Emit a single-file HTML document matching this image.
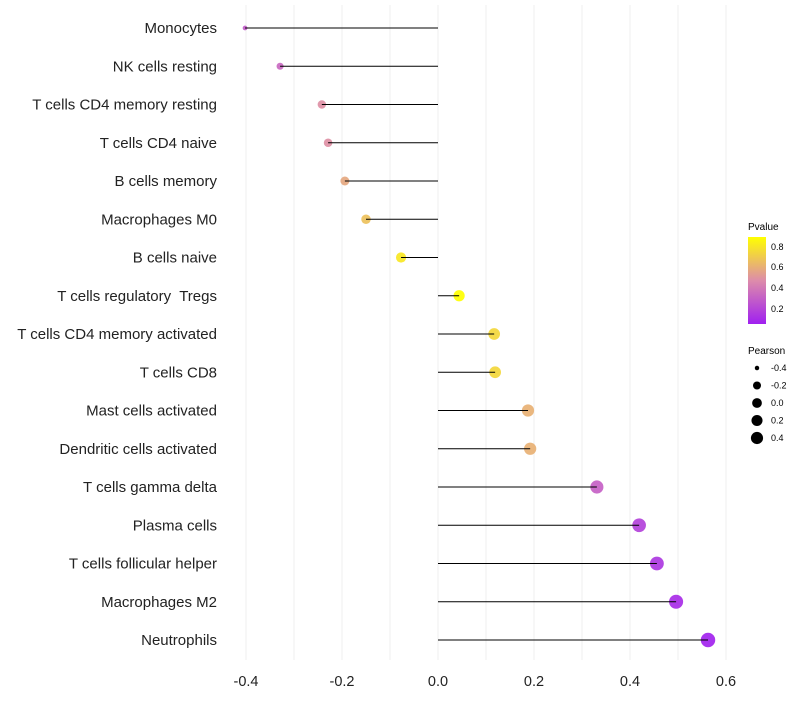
<!DOCTYPE html>
<html><head><meta charset="utf-8"><style>
body{margin:0;background:#fff;}
text{font-family:"Liberation Sans",sans-serif;white-space:pre;}
</style></head><body>
<svg id="chart" width="800" height="700" xmlns="http://www.w3.org/2000/svg" xml:space="preserve">
<defs><linearGradient id="pg" x1="0" y1="1" x2="0" y2="0">
<stop offset="0" stop-color="#A020F0"/><stop offset="0.5" stop-color="#DD8CAA"/><stop offset="1" stop-color="#FFFF00"/>
</linearGradient></defs>
<g id="grid"></g><g id="marks"></g><g id="labels"></g>
<g>
<text x="748" y="230" font-size="10">Pvalue</text>
<rect x="748" y="237" width="18" height="87" fill="url(#pg)"/>
<text x="771" y="250" font-size="9">0.8</text>
<text x="771" y="270" font-size="9">0.6</text>
<text x="771" y="291" font-size="9">0.4</text>
<text x="771" y="312" font-size="9">0.2</text>
</g>
<g id="sizeLegend">
<text x="748" y="354" font-size="10">Pearson</text>
</g>
</svg>
<script>
const categories=["Monocytes","NK cells resting","T cells CD4 memory resting","T cells CD4 naive","B cells memory","Macrophages M0","B cells naive","T cells regulatory  Tregs","T cells CD4 memory activated","T cells CD8","Mast cells activated","Dendritic cells activated","T cells gamma delta","Plasma cells","T cells follicular helper","Macrophages M2","Neutrophils"];
const pearson=[-0.402,-0.329,-0.242,-0.229,-0.194,-0.15,-0.077,0.044,0.117,0.119,0.1875,0.192,0.331,0.419,0.456,0.496,0.5625];
const pvalues=[0.28,0.33,0.48,0.48,0.57,0.66,0.8,0.89,0.74,0.74,0.6,0.6,0.3,0.18,0.14,0.1,0.06];
const xTicks=[-0.4,-0.2,0.0,0.2,0.4,0.6];
const sizeLegendVals=[-0.4,-0.2,0.0,0.2,0.4];
const NS="http://www.w3.org/2000/svg";
const x=v=>438+v*480;
const y=i=>28+i*38.25;
const rad=v=>2.1+5.1*Math.sqrt(Math.max(0,v+0.405)/0.96);
function lerp(a,b,t){return a.map((c,k)=>Math.round(c+(b[k]-c)*t));}
function col(p){let t=(p-0.048)/(0.886-0.048);t=Math.max(0,Math.min(1,t));
 const s=[[160,32,240],[221,140,170],[255,255,0]];
 const c=t<0.5?lerp(s[0],s[1],t*2):lerp(s[1],s[2],(t-0.5)*2);return `rgb(${c})`;}
function mk(tag,attrs,parent){const e=document.createElementNS(NS,tag);for(const k in attrs)e.setAttribute(k,attrs[k]);parent.appendChild(e);return e;}
const grid=document.getElementById('grid'),marks=document.getElementById('marks'),labels=document.getElementById('labels');
for(let v=-0.4;v<=0.601;v+=0.1){const g=mk('line',{x1:x(v),x2:x(v),y1:5,y2:660,stroke:'#EFEFEF','stroke-width':1},grid);

}
xTicks.forEach(v=>{const t=mk('text',{x:x(v),y:686,'font-size':14.5,'text-anchor':'middle',fill:'#222'},labels);t.textContent=v.toFixed(1);

});
categories.forEach((c,i)=>{
 const t=mk('text',{x:217,y:y(i)+5,'font-size':15,'text-anchor':'end',fill:'#222'},labels);t.textContent=c;
 
 
 const pt=mk('circle',{cx:x(pearson[i]),cy:y(i),r:rad(pearson[i]),fill:col(pvalues[i]),'fill-opacity':0.92},marks);
 
 
 const l=mk('line',{x1:x(0),x2:x(pearson[i]),y1:y(i),y2:y(i),stroke:'#000','stroke-width':1},marks);
 
 
});
const sl=document.getElementById('sizeLegend');
sizeLegendVals.forEach((v,k)=>{const cy=368+k*17.5;
 const c=mk('circle',{cx:757,cy:cy,r:rad(v)*0.9,fill:'#000'},sl);
 
 
 const t=mk('text',{x:771,y:cy+3,'font-size':9},sl);t.textContent=v.toFixed(1);
 
 });
</script>
</body></html>
